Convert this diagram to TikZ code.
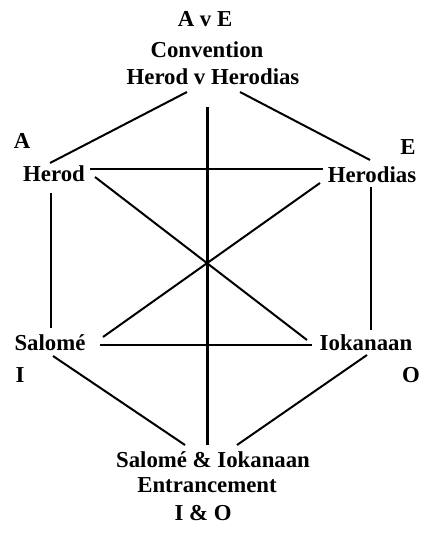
\documentclass[tikz,border=0pt]{standalone}
\usepackage{fontspec}
\setmainfont{Liberation Serif}
\begin{document}
\begin{tikzpicture}[x=1pt,y=-1pt,
  lbl/.style={anchor=base,inner sep=0pt,font=\fontsize{22.8}{27}\selectfont\bfseries},
  edge/.style={line width=2pt},
  axis/.style={line width=3pt}]
\useasboundingbox (0,0) rectangle (422,537);
% texts
\node[lbl] (t1) at (205,27) {A v E};
\node[lbl] (t2) at (207,58) {Convention};
\node[lbl] (t3) at (213,85) {Herod v Herodias};
\node[lbl] (la) at (22,149) {A};
\node[lbl] (le) at (408,155) {E};
\node[lbl] (herod) at (54,182) {Herod};
\node[lbl] (herodias) at (372,183) {Herodias};
\node[lbl] (salome) at (50,350) {Salomé};
\node[lbl] (iok) at (366,350) {Iokanaan};
\node[lbl] (li) at (20,382) {I};
\node[lbl] (lo) at (411,382) {O};
\node[lbl] (b1) at (213,467) {Salomé \& Iokanaan};
\node[lbl] (b2) at (207,492) {Entrancement};
\node[lbl] (b3) at (203,520) {I \& O};
% connectors
\draw[edge] ([shift={(-26,7)}]t3.base) -- ([shift={(-4,-19)}]herod.base);
\draw[edge] ([shift={(27,7)}]t3.base) -- ([shift={(-2,-23)}]herodias.base);
\draw[axis] ([shift={(-6,22)}]t3.base) -- ([shift={(-6,-22)}]b1.base);
\draw[edge] ([shift={(-3,11)}]herod.base) -- ([shift={(1,-22)}]salome.base);
\draw[edge] ([shift={(-1,4)}]herodias.base) -- ([shift={(5,-20)}]iok.base);
\draw[edge] ([shift={(36,-13)}]herod.base) -- ([shift={(-49,-14)}]herodias.base);
\draw[edge] ([shift={(41,-5)}]herod.base) -- ([shift={(-59,-10)}]iok.base);
\draw[edge] ([shift={(-52,0)}]herodias.base) -- ([shift={(53,-13)}]salome.base);
\draw[edge] ([shift={(50,-5)}]salome.base) -- ([shift={(-54,-5)}]iok.base);
\draw[edge] ([shift={(3,6)}]salome.base) -- ([shift={(-28,-22)}]b1.base);
\draw[edge] ([shift={(1,5)}]iok.base) -- ([shift={(24,-22)}]b1.base);
\end{tikzpicture}
\end{document}
